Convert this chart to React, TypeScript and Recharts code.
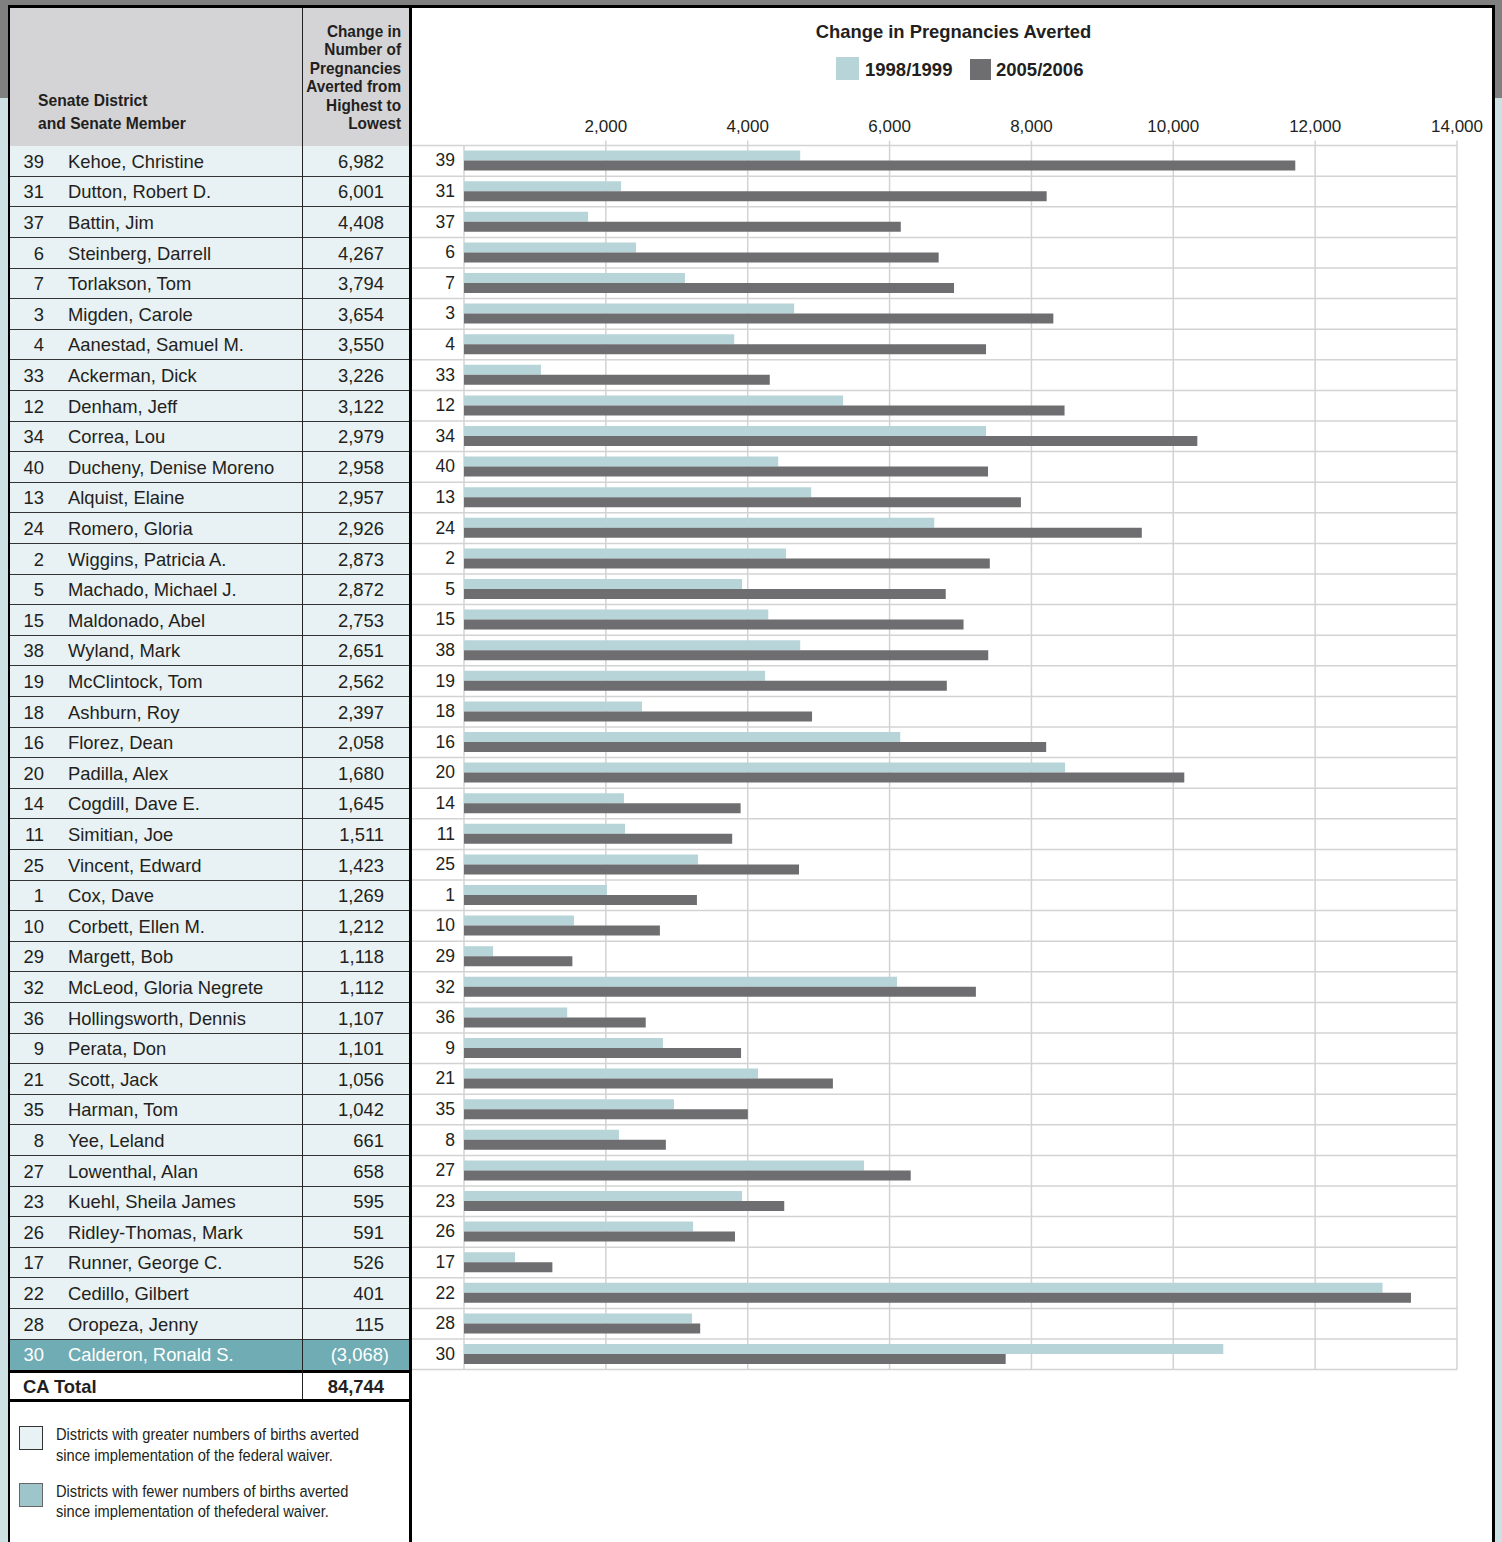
import React from 'react';
import { BarChart, Bar, XAxis, YAxis, CartesianGrid } from 'recharts';

const districts = ['39','31','37','6','7','3','4','33','12','34','40','13','24','2','5','15','38','19','18','16','20','14','11','25','1','10','29','32','36','9','21','35','8','27','23','26','17','22','28','30'];
const members = ['Kehoe, Christine','Dutton, Robert D.','Battin, Jim','Steinberg, Darrell','Torlakson, Tom','Migden, Carole','Aanestad, Samuel M.','Ackerman, Dick','Denham, Jeff','Correa, Lou','Ducheny, Denise Moreno','Alquist, Elaine','Romero, Gloria','Wiggins, Patricia A.','Machado, Michael J.','Maldonado, Abel','Wyland, Mark','McClintock, Tom','Ashburn, Roy','Florez, Dean','Padilla, Alex','Cogdill, Dave E.','Simitian, Joe','Vincent, Edward','Cox, Dave','Corbett, Ellen M.','Margett, Bob','McLeod, Gloria Negrete','Hollingsworth, Dennis','Perata, Don','Scott, Jack','Harman, Tom','Yee, Leland','Lowenthal, Alan','Kuehl, Sheila James','Ridley-Thomas, Mark','Runner, George C.','Cedillo, Gilbert','Oropeza, Jenny','Calderon, Ronald S.'];
const changeLabels = ['6,982','6,001','4,408','4,267','3,794','3,654','3,550','3,226','3,122','2,979','2,958','2,957','2,926','2,873','2,872','2,753','2,651','2,562','2,397','2,058','1,680','1,645','1,511','1,423','1,269','1,212','1,118','1,112','1,107','1,101','1,056','1,042','661','658','595','591','526','401','115','(3,068)'];
const averted1998 = [4740,2215,1750,2425,3115,4655,3810,1085,5345,7360,4430,4895,6630,4540,3920,4290,4740,4245,2510,6150,8475,2255,2270,3300,2015,1550,410,6105,1455,2805,4145,2960,2185,5640,3920,3230,720,12950,3215,10705];
const averted2005 = [11720,8215,6158,6692,6909,8309,7360,4311,8467,10339,7388,7852,9556,7413,6792,7043,7391,6807,4907,8208,10155,3900,3781,4723,3284,2762,1528,7217,2562,3906,5201,4002,2846,6298,4515,3821,1246,13351,3330,7637];
const xTicks = [2000, 4000, 6000, 8000, 10000, 12000, 14000];
const seriesNames = ['1998/1999', '2005/2006'];
const decreasedDistricts = ['30'];
const totalLabel = 'CA Total';
const totalValue = '84,744';
const chartTitle = 'Change in Pregnancies Averted';
const headerLeft = ['Senate District', 'and Senate Member'];
const headerRight = ['Change in', 'Number of', 'Pregnancies', 'Averted from', 'Highest to', 'Lowest'];
const noteGreater = ['Districts with greater numbers of births averted', 'since implementation of the federal waiver.'];
const noteFewer = ['Districts with fewer numbers of births averted', 'since implementation of thefederal waiver.'];

const FONT = '"Liberation Sans", Arial, Helvetica, sans-serif';
const TEXT = '#231f20';
const LIGHT = '#b7d4d8';
const DARK = '#6e6e70';
const GRID = '#d3d3d3';
const ROW_FILL = '#e8f1f3';
const TEAL = '#70acb3';
const HEADER_FILL = '#d4d4d6';

const ROW_TOP = 145.6;
const ROW_H = 30.6;
const AXIS_W = 52;
const CHART_W = 1080;
const CHART_H = 1400;

const data = districts.map((d, i) => ({ district: d, v1998: averted1998[i], v2005: averted2005[i] }));

const XTick = (props: any) => {
  const { x, y, payload } = props;
  return (
    <text x={x} y={y} textAnchor="middle" fontFamily={FONT} fontSize={17} fill={TEXT}>
      {Number(payload.value).toLocaleString('en-US')}
    </text>
  );
};

const YTick = (props: any) => {
  const { x, y, payload } = props;
  return (
    <text x={x - 1} y={y} dy={5.5} textAnchor="end" fontFamily={FONT} fontSize={17.5} fill={TEXT}>
      {payload.value}
    </text>
  );
};

const abs = (s: React.CSSProperties): React.CSSProperties => ({ position: 'absolute', ...s });

export default function App() {
  const nRows = districts.length;
  const tOff = 1.3;
  return (
    <div style={abs({ left: 0, top: 0, width: 1502, height: 1542, overflow: 'hidden', background: '#cde0e4', fontFamily: FONT, color: TEXT })}>
      <div style={abs({ left: 0, top: 0, width: 1502, height: 98, background: '#808080' })} />
      <div style={abs({ left: 8, top: 5, width: 1487, height: 1600, background: '#fff', borderTop: '3px solid #000', borderLeft: '2px solid #000', borderRight: '3px solid #000', boxSizing: 'border-box' })} />

      {/* table header */}
      <div style={abs({ left: 10, top: 8, width: 399, height: ROW_TOP - 8 + 1, background: HEADER_FILL })} />
      <div style={abs({ left: 38, top: 88.5, fontSize: 17, fontWeight: 700, lineHeight: '23.3px', whiteSpace: 'nowrap' })}>
        <span style={{ display: 'inline-block', transform: 'scaleX(0.92)', transformOrigin: 'left top' }}>
          {headerLeft.map((t, i) => (<React.Fragment key={i}>{t}{i < headerLeft.length - 1 ? <br /> : null}</React.Fragment>))}
        </span>
      </div>
      <div style={abs({ left: 201, width: 200, top: 21.7, fontSize: 16.5, fontWeight: 700, lineHeight: '18.5px', whiteSpace: 'nowrap', textAlign: 'right' })}>
        <span style={{ display: 'inline-block', transform: 'scaleX(0.93)', transformOrigin: 'right top', textAlign: 'right' }}>
          {headerRight.map((t, i) => (<React.Fragment key={i}>{t}{i < headerRight.length - 1 ? <br /> : null}</React.Fragment>))}
        </span>
      </div>

      {/* table rows */}
      {districts.map((d, i) => {
        const top = ROW_TOP + i * ROW_H;
        const dec = decreasedDistricts.includes(d);
        const label = changeLabels[i];
        return (
          <div key={d} style={abs({ left: 10, top, width: 399, height: ROW_H, background: dec ? TEAL : ROW_FILL, lineHeight: `${ROW_H}px`, fontSize: 18.4, color: dec ? '#fff' : TEXT, whiteSpace: 'nowrap' })}>
            <span style={abs({ left: 0, top: tOff, width: 34, textAlign: 'right' })}>{d}</span>
            <span style={abs({ left: 58, top: tOff })}>{members[i]}</span>
            <span style={abs({ left: 293, top: tOff, width: label.startsWith('(') ? 86 : 81, textAlign: 'right' })}>{label}</span>
          </div>
        );
      })}
      {districts.slice(1).map((d, i) => (
        <div key={'l' + d} style={abs({ left: 10, top: ROW_TOP + (i + 1) * ROW_H - 0.5, width: 399, height: 1, background: '#333' })} />
      ))}
      <div style={abs({ left: 10, top: ROW_TOP + nRows * ROW_H, width: 399, height: 3, background: '#000' })} />
      <div style={abs({ left: 23, top: 1374, height: 26, lineHeight: '26px', fontSize: 18.4, fontWeight: 700 })}>{totalLabel}</div>
      <div style={abs({ left: 303, width: 81, top: 1374, height: 26, lineHeight: '26px', fontSize: 18.4, fontWeight: 700, textAlign: 'right' })}>{totalValue}</div>
      <div style={abs({ left: 10, top: 1398.7, width: 399, height: 3, background: '#000' })} />
      <div style={abs({ left: 302, top: 8, width: 1, height: 1391, background: '#222' })} />

      {/* notes */}
      <div style={abs({ left: 19, top: 1426, width: 24, height: 24, background: ROW_FILL, border: '1.5px solid #333', boxSizing: 'border-box' })} />
      <div style={abs({ left: 19, top: 1483.3, width: 24, height: 23.5, background: '#9ec6ca', border: '1px solid #666', boxSizing: 'border-box' })} />
      <div style={abs({ left: 56, top: 1424.1, fontSize: 16.3, lineHeight: '20.5px', whiteSpace: 'nowrap' })}>
        <span style={{ display: 'inline-block', transform: 'scaleX(0.9)', transformOrigin: 'left top' }}>
          {noteGreater[0]}<br />{noteGreater[1]}
        </span>
      </div>
      <div style={abs({ left: 56, top: 1480.8, fontSize: 16.3, lineHeight: '20px', whiteSpace: 'nowrap' })}>
        <span style={{ display: 'inline-block', transform: 'scaleX(0.9)', transformOrigin: 'left top' }}>
          {noteFewer[0]}<br />{noteFewer[1]}
        </span>
      </div>

      <div style={abs({ left: 409, top: 8, width: 3, height: 1600, background: '#000' })} />

      {/* chart title and legend */}
      <div style={abs({ left: 753.5, width: 400, top: 21.9, textAlign: 'center', fontSize: 18.4, fontWeight: 700, lineHeight: '20px' })}>{chartTitle}</div>
      <div style={abs({ left: 836, top: 56.7, width: 23, height: 23.3, background: LIGHT })} />
      <div style={abs({ left: 865, top: 60.3, fontSize: 18.5, fontWeight: 700, lineHeight: '20px', whiteSpace: 'nowrap' })}>{seriesNames[0]}</div>
      <div style={abs({ left: 970, top: 59, width: 21, height: 21, background: DARK })} />
      <div style={abs({ left: 996, top: 60.3, fontSize: 18.5, fontWeight: 700, lineHeight: '20px', whiteSpace: 'nowrap' })}>{seriesNames[1]}</div>

      <div style={abs({ left: 412, top: 0 })}>
        <BarChart
          width={CHART_W}
          height={CHART_H}
          data={data}
          layout="vertical"
          margin={{ top: 0, right: 35, bottom: CHART_H - ROW_TOP - nRows * ROW_H, left: 0 }}
          barGap={0}
          barSize={10}
        >
          <CartesianGrid
            stroke={GRID}
            strokeWidth={1.5}
            horizontalCoordinatesGenerator={({ offset }: any) =>
              districts.map((_, i) => offset.top + (i * offset.height) / districts.length).concat(offset.top + offset.height)
            }
            horizontal={(p: any) => (
              <line key={`h-${p.index}-${p.y1}`} x1={p.x1 - AXIS_W} x2={p.x2} y1={p.y1} y2={p.y2} stroke={GRID} strokeWidth={1.5} />
            )}
          />
          <XAxis
            type="number"
            orientation="top"
            domain={[0, 14000]}
            ticks={xTicks}
            height={ROW_TOP}
            axisLine={false}
            tickLine={{ stroke: GRID, strokeWidth: 1.5 }}
            tickSize={5}
            tickMargin={9}
            tick={XTick}
            interval={0}
          />
          <YAxis type="category" dataKey="district" width={AXIS_W} axisLine={false} tickLine={false} tick={YTick} interval={0} />
          <Bar dataKey="v1998" name={seriesNames[0]} fill={LIGHT} isAnimationActive={false} />
          <Bar dataKey="v2005" name={seriesNames[1]} fill={DARK} isAnimationActive={false} />
        </BarChart>
      </div>
    </div>
  );
}
